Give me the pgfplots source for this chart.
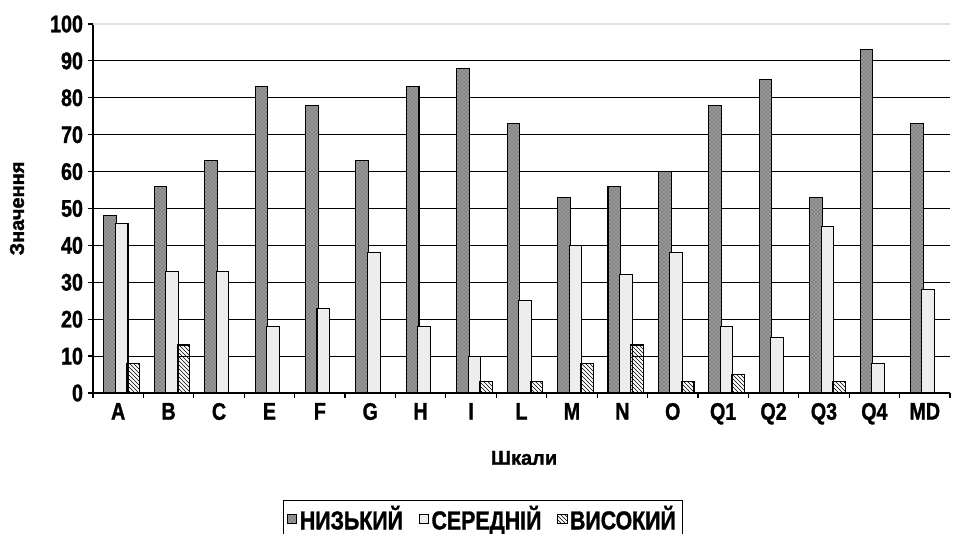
\documentclass[border=0pt]{standalone}
\usepackage{fontspec}
\setmainfont[FakeStretch=0.82, BoldFeatures={FakeBold=1.2}]{Liberation Sans}
\newfontfamily\labelfont[BoldFeatures={FakeBold=1.5}]{Liberation Sans}
\usepackage{pgfplots}
\pgfplotsset{compat=1.18}
\usepackage{pgfplotstable}
\usetikzlibrary{patterns}

\pgfplotstableread{
cat low mid high
0  48 46 8
1  56 33 13
2  63 33 0
3  83 18 0
4  78 23 0
5  63 38 0
6  83 18 0
7  88 10 3
8  73 25 3
9  53 40 8
10 56 32 13
11 60 38 3
12 78 18 5
13 85 15 0
14 53 45 3
15 93 8  0
16 73 28 0
}\scales

\begin{document}
\begin{tikzpicture}
\useasboundingbox (-69.75pt,-105.75pt) rectangle (645.75pt,294.75pt);
\begin{axis}[
  scale only axis,
  width=642.75pt, height=276.75pt,
  at={(0,0)}, anchor=south west,
  xmin=-0.5, xmax=16.5, ymin=0, ymax=100,
  axis x line*=bottom, axis y line*=left,
  axis line style={black, line width=0.9pt},
  xtick={0,...,16},
  xticklabels={A,B,C,E,F,G,H,I,L,M,N,O,Q1,Q2,Q3,Q4,MD},
  minor xtick={-0.5,0.5,...,16.5},
  major x tick style={draw=none},
  minor x tick style={black, line width=0.9pt},
  ytick={0,10,...,90},
  extra y ticks={100},
  extra y tick style={major grid style={black!12, line width=0.8pt}},
  ymajorgrids,
  major grid style={black, line width=0.8pt},
  tick align=outside,
  major tick length=4pt, minor tick length=4pt,
  ytick style={black, line width=0.9pt},
  /pgf/number format/assume math mode=true,
  tick label style={font=\bfseries\fontsize{18pt}{19pt}\selectfont},
  ylabel={Значення},
  xlabel={Шкали},
  ylabel style={at={(axis description cs:-0.0887,0.5)}, anchor=center,
    font=\labelfont\bfseries\fontsize{15pt}{17pt}\selectfont},
  xlabel style={at={(axis description cs:0.503,-0.176)}, anchor=center,
    font=\labelfont\bfseries\fontsize{15pt}{17pt}\selectfont},
  legend columns=3,
  legend style={at={(axis description cs:0.455,-0.29)}, anchor=north,
    draw=black, line width=0.8pt, font=\bfseries\fontsize{19.5pt}{21pt}\selectfont,
    /tikz/every even column/.append style={column sep=10pt},
    inner xsep=3pt, inner ysep=2pt},
  legend image code/.code={\draw[#1, line width=0.6pt] (0cm,-0.12cm) rectangle (0.24cm,0.12cm);},
]
\addplot[ybar, bar width=9.5pt, bar shift=-6pt, draw=black, line width=0.8pt, fill=black!40,
  postaction={pattern=crosshatch dots, pattern color=black!75}]
  table[x=cat, y=low] {\scales};
\addplot[ybar, bar width=9.5pt, bar shift=2.6pt, draw=black, line width=0.8pt, fill=black!7]
  table[x=cat, y=mid] {\scales};
\addplot[ybar, bar width=9.5pt, bar shift=11.2pt, draw=black, line width=0.8pt, pattern=north west lines]
  table[x=cat, y=high] {\scales};
\legend{НИЗЬКИЙ, СЕРЕДНІЙ, ВИСОКИЙ}
\end{axis}
\end{tikzpicture}
\end{document}
